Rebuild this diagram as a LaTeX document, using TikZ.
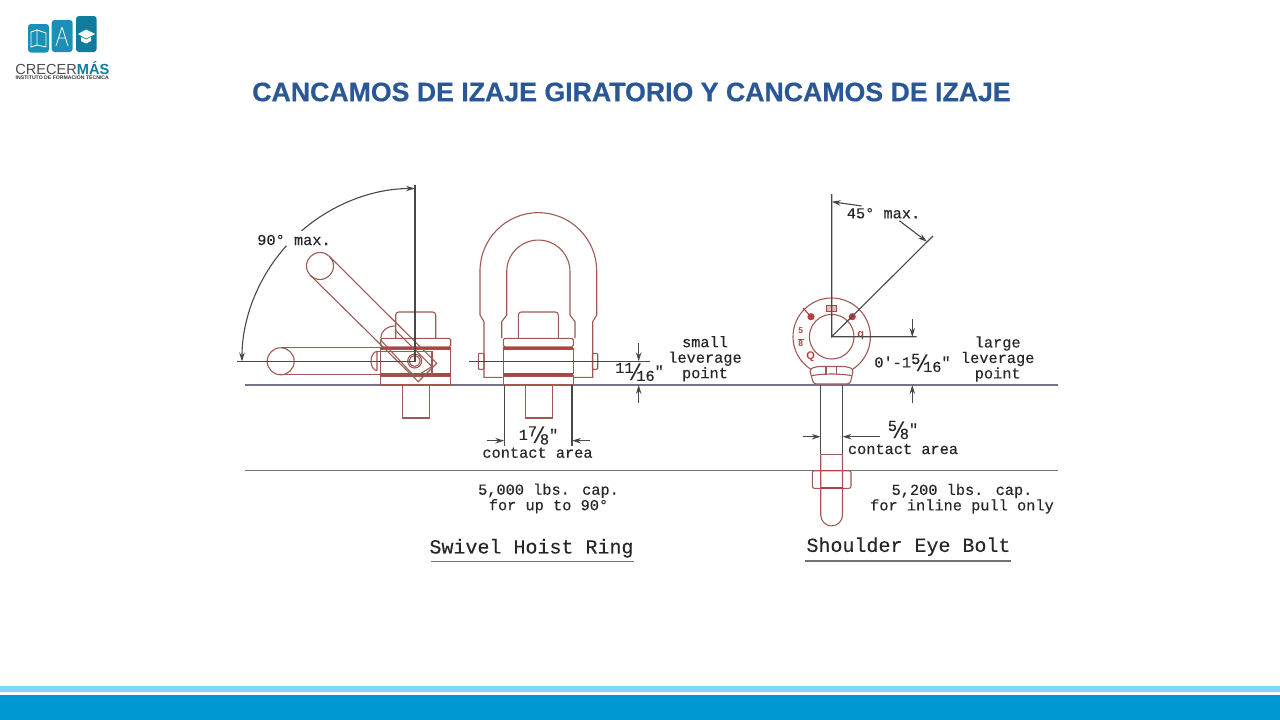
\documentclass[tikz,border=0pt]{standalone}
\usepackage{fontspec}
\setmainfont{Liberation Sans}
\newfontfamily\drawfont[FakeBold=0.25]{Liberation Mono}
\newfontfamily\slashfont{Liberation Mono}
\newfontfamily\titlefont[FakeBold=0.6]{Liberation Sans Bold}
\usetikzlibrary{arrows.meta}
\definecolor{titleblue}{HTML}{2A5796}
\definecolor{brick}{HTML}{9E5A52}
\definecolor{redband}{HTML}{B5403F}
\definecolor{inkline}{HTML}{484848}
\definecolor{baseline}{HTML}{75738A}
\definecolor{barlight}{HTML}{84D6F7}
\definecolor{bardark}{HTML}{0098D3}
\definecolor{logoteal}{HTML}{1B8FB5}
\definecolor{logodeep}{HTML}{0F7C9C}
\newcommand{\dimfrac}[2]{\raisebox{3.5pt}{#1}\kern-5pt\raisebox{-4pt}{\slashfont\fontsize{23}{23}\selectfont/}\kern-6pt\raisebox{-4.5pt}{#2}}
\begin{document}
\begin{tikzpicture}[x=1pt, y=-1pt,
    part/.style = {draw=brick, line width=1.1pt},
    band/.style = {draw=redband, line width=2.2pt},
    ink/.style = {draw=inkline, line width=1.1pt},
    level/.style = {draw=baseline, line width=1.3pt},
    tip/.style = {ink, -{Stealth[length=9pt,width=5.5pt]}},
    label/.style = {inner sep=0pt, text=black!85, align=center, font=\drawfont\fontsize{15.3}{15.5}\selectfont},
    heading/.style = {inner sep=0pt, text=black!85, font=\drawfont\fontsize{20}{20}\selectfont},
    stamp/.style = {inner sep=0pt, text=redband, font=\bfseries\fontsize{11}{9}\selectfont},
    logoicon/.style = {draw=white, line width=0.8pt}]
    \useasboundingbox (0,0) rectangle (1280,720);
    % bottom bars
    \fill[barlight] (0,686) rectangle (1280,692);
    \fill[bardark] (0,695) rectangle (1280,720);
    % logo
    \fill[logoteal, rounded corners=3pt] (28,24) rectangle (49,52.5);
    \fill[logoteal, rounded corners=3pt] (51.7,20) rectangle (72.7,52);
    \fill[logodeep, rounded corners=3pt] (76,16) rectangle (96.7,52);
    \draw[logoicon] (31,32) -- (37,30) -- (37,45) -- (31,47) -- cycle (37,30) -- (46,33) -- (46,47) -- (37,45);
    \draw[logoicon] (62,27) -- (56,46) (62,27) -- (68,46) (58.5,38) -- (65.5,38);
    \fill[white] (78,34) -- (86,29.5) -- (95,34) -- (86,38.5) -- cycle;
    \fill[white] (81,37) -- (86,39.5) -- (91,37) -- (91,41) -- (86,43.5) -- (81,41) -- cycle;
    \node[inner sep=0pt, text=black!70] (brand) at (62.3,68) {\fontsize{14.6}{15}\selectfont CRECER\textcolor{logodeep}{\bfseries MÁS}};
    \node[inner sep=0pt, text=black!80] (school) at (62.3,77.5) {\bfseries\fontsize{5.15}{6}\selectfont INSTITUTO DE FORMACIÓN TÉCNICA};
    % title
    \node[inner sep=0pt, text=titleblue] (title) at (631.5,92) {\titlefont\fontsize{26.7}{28}\selectfont CANCAMOS DE IZAJE GIRATORIO Y CANCAMOS DE IZAJE};
    % levels
    \draw[level] (245,385) -- (1058,385);
    \draw[draw=black!55, line width=1pt] (245,470) -- (1058,470);
    % plates and bolts of both rings
    \foreach \xb in {380.7,503.3} {
        \draw[part, rounded corners=1.5pt] (\xb,338.3) rectangle ++(70,8.5);
        \draw[part] (\xb,349) rectangle ++(70,24.5);
        \draw[part] (\xb,376) rectangle ++(70,9);
        \draw[band] (\xb,348) -- ++(70,0);
        \draw[band] (\xb,374.5) -- ++(70,0);
        \draw[part, rounded corners=3pt] (\xb+15,338) -- ++(0,-26) -- ++(40,0) -- ++(0,26);
        \draw[part] (\xb+22,385) -- ++(0,33) -- ++(27,0) -- ++(0,-33);
    }
    % swivel ring, side view
    \draw[part] (280.7,361.3) circle (13.5);
    \draw[part] (280.7,347.8) -- (380.7,347.8);
    \draw[part] (280.7,374.8) -- (417,374.8);
    \draw[part] (377,351.5) -- (377,370.5) (377,351.5) arc (270:90:6 and 9.5);
    \draw[part] (377,351.5) -- (432,351.5) -- (432,377);
    \draw[part] (320,266) circle (13.5);
    \draw[part] (329.5,256.5) -- (436.7,363.3) -- (418.3,381.7) -- (310.5,275.5);
    \draw[part] (395,330) -- (432,366.5) -- (415,377) -- (380.7,340);
    \draw[part] (380.7,338) .. controls (381,331) and (387,326) .. (395,326);
    \draw[part] (414.7,361) circle (7);
    \draw[part] (414.7,361) circle (5.5);
    \coordinate (sidetop) at (415,185);
    \coordinate (sidehub) at (415,361.5);
    \coordinate (sideleft) at (237,361.5);
    \draw[ink] (sidetop) -- (sidehub) -- (sideleft);
    \draw[tip] (sidehub) ++(229:173) arc (229:270:173);
    \draw[tip] (sidehub) ++(222:173) arc (222:180:173);
    \node[label] (sidemax) at (294,240) {90° max.};
    % swivel ring, front view
    \draw[part] (502.7,377.3) -- (484,377.3) -- (484,321.7) -- (480,315) -- (480,271) arc (180:360:58.35) -- (596.7,315) -- (592.7,321.7) -- (592.7,377.3) -- (574,377.3);
    \draw[part] (501.7,338) -- (501.7,321.7) -- (506.7,315) -- (506.7,271.7) arc (180:360:31.65) -- (570,315) -- (575,321.7) -- (575,338);
    \draw[part, rounded corners=1pt] (478.3,353.3) rectangle (484,369.3);
    \draw[part, rounded corners=1pt] (592.3,353.3) rectangle (597.7,369.3);
    \coordinate (frontleft) at (469.3,361.3);
    \coordinate (frontright) at (650,361.3);
    \draw[ink] (frontleft) -- (frontright);
    \coordinate (smalltop) at (638.7,343.3);
    \coordinate (smallup) at (638.7,361.3);
    \coordinate (smallbot) at (638.7,402.7);
    \coordinate (smalllow) at (638.7,385);
    \draw[tip] (smalltop) -- (smallup);
    \draw[tip] (smallbot) -- (smalllow);
    \node[label] (smalldim) at (639.5,372) {\dimfrac{11}{16}"};
    \node[label] (smalltext) at (705,358.7) {small\\leverage\\point};
    \coordinate (widthleft) at (504.3,385);
    \coordinate (widthright) at (572,385);
    \draw[ink] (widthleft) -- ++(0,61);
    \draw[ink] (widthright) -- ++(0,61);
    \coordinate (widthout) at (486.7,440.7);
    \coordinate (widthin) at (504.3,440.7);
    \coordinate (widthoutr) at (590,440.7);
    \coordinate (widthinr) at (572,440.7);
    \draw[tip] (widthout) -- (widthin);
    \draw[tip] (widthoutr) -- (widthinr);
    \node[label] (widthdim) at (538.5,435.5) {1\dimfrac{7}{8}"};
    \node[label] (widthtext) at (537.5,452.7) {contact area};
    \node[label] (ringcap) at (548.5,498.5) {5,000 lbs. cap.\\for up to 90°};
    \node[heading] (ringname) at (531.5,548.3) {Swivel Hoist Ring};
    \draw[draw=black!55, line width=1.1pt] (431,561.7) -- (634,561.7);
    % eye bolt
    \draw[part] (831.7,336.7) circle (38.7);
    \draw[part] (831.7,336.7) circle (22.3);
    \draw[part, fill=white, rounded corners=3pt] (809.5,369) -- (813.5,384) -- (850,384) -- (853.5,369) -- (846,366.5) -- (817,366.5) -- cycle;
    \draw[part] (812,375.5) .. controls (825,373.5) and (838,373.5) .. (851.5,375.5);
    \draw[part] (826,367) -- (826,375) (836.7,367) -- (836.7,375);
    \draw[part] (820.7,454.3) -- (842.5,454.3);
    \draw[part, rounded corners=2pt] (812.3,470.7) rectangle (851,488.3);
    \draw[part] (820.7,454.3) -- (820.7,515) arc (180:0:10.9) -- (842.5,454.3);
    \draw[band, line width=1.3pt] (820.7,470.7) -- (842.5,470.7) (820.7,488) -- (842.5,488);
    \draw[ink] (820.7,385) -- (820.7,454.3) (842.5,385) -- (842.5,454.3);
    \draw[part, draw=redband] (803,308) -- (811,316.7);
    \fill[redband] (811,316.7) circle (3.6) (852.3,316.7) circle (3.6);
    \node[draw=redband, fill=redband!35, minimum width=10pt, minimum height=6pt, inner sep=0pt] (stamptop) at (831,307.7) {};
    \node[stamp, font=\bfseries\fontsize{8.5}{7}\selectfont, align=center] (stampleft) at (800.7,336.7) {5\\[-0.5pt]\rule{6pt}{0.8pt}\\[-0.5pt]8};
    \node[stamp] (stampright) at (860.7,335.5) {q};
    \node[stamp] (stamplow) at (810.7,357) {Q};
    \coordinate (eyehub) at (831.7,336.7);
    \coordinate (eyetop) at (831.7,194);
    \coordinate (eyetilt) at (933,236);
    \coordinate (eyeright) at (916.7,336.7);
    \draw[ink] (eyetop) -- (eyehub) -- (eyetilt) (eyehub) -- (eyeright);
    \coordinate (maxtop) at (861.7,206);
    \coordinate (maxtopin) at (831.7,201.7);
    \coordinate (maxtilt) at (899.3,220.7);
    \coordinate (maxtiltin) at (927,241.7);
    \draw[tip] (maxtop) -- (maxtopin);
    \draw[tip] (maxtilt) -- (maxtiltin);
    \node[label] (eyemax) at (883.5,213.3) {45° max.};
    \coordinate (largetop) at (912.3,319.3);
    \coordinate (largeup) at (912.3,337);
    \coordinate (largebot) at (912.3,403.3);
    \coordinate (largelow) at (912.3,385);
    \draw[tip] (largetop) -- (largeup);
    \draw[tip] (largebot) -- (largelow);
    \node[label] (largedim) at (912.5,363) {0'-1\dimfrac{5}{16}"};
    \node[label] (largetext) at (997.7,359) {large\\leverage\\point};
    \coordinate (shankout) at (802.7,436.7);
    \coordinate (shankin) at (820.7,436.7);
    \coordinate (shankoutr) at (880,436.7);
    \coordinate (shankinr) at (842.5,436.7);
    \draw[tip] (shankout) -- (shankin);
    \draw[tip] (shankoutr) -- (shankinr);
    \node[label] (shankdim) at (903,430) {\dimfrac{5}{8}"};
    \node[label] (shanktext) at (903,449) {contact area};
    \node[label] (boltcap) at (962,498.7) {5,200 lbs. cap.\\for inline pull only};
    \node[heading] (boltname) at (908.5,546.7) {Shoulder Eye Bolt};
    \draw[draw=black!55, line width=1.1pt] (805,561) -- (1011,561);
\end{tikzpicture}
\end{document}
